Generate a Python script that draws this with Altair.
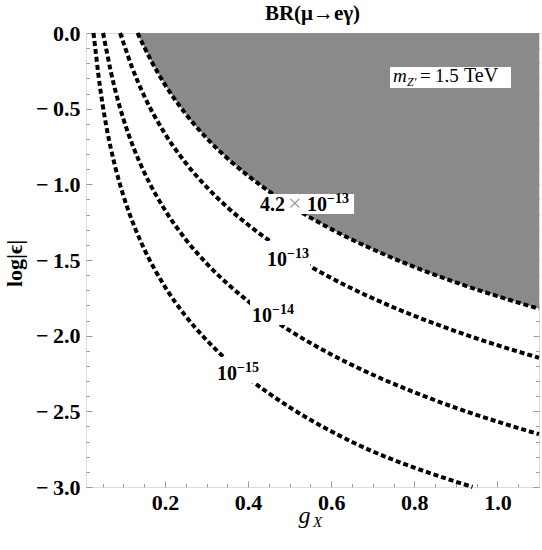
import altair as alt
import pandas as pd

# ---- contour read-offs: g_X and log10|eps| ----
G_A = [0.134, 0.15, 0.17, 0.2, 0.25, 0.3, 0.35, 0.4, 0.5, 0.6, 0.7, 0.8, 0.9, 1.0, 1.1]
LE_A = [0.0, -0.092, -0.200, -0.341, -0.535, -0.694, -0.828, -0.943, -1.137, -1.296, -1.429, -1.546, -1.648, -1.739, -1.822]

G_B = [0.092, 0.1, 0.12, 0.15, 0.2, 0.25, 0.3, 0.35, 0.4, 0.5, 0.6, 0.7, 0.8, 0.9, 1.0, 1.1]
LE_B = [0.0, -0.063, -0.221, -0.415, -0.665, -0.859, -1.017, -1.151, -1.267, -1.461, -1.619, -1.753, -1.869, -1.971, -2.063, -2.146]

G_C = [0.051, 0.06, 0.07, 0.08, 0.1, 0.125, 0.15, 0.2, 0.25, 0.3, 0.35, 0.4, 0.5, 0.6, 0.7, 0.8, 0.9, 1.0, 1.1]
LE_C = [0.0, -0.124, -0.258, -0.374, -0.568, -0.762, -0.920, -1.170, -1.364, -1.522, -1.656, -1.772, -1.966, -2.124, -2.258, -2.374, -2.477, -2.568, -2.651]

G_D = [0.028, 0.035, 0.04, 0.05, 0.06, 0.08, 0.1, 0.125, 0.15, 0.2, 0.25, 0.3, 0.35, 0.4, 0.5, 0.6, 0.7, 0.8, 0.9, 0.94]
LE_D = [0.0, -0.163, -0.279, -0.473, -0.632, -0.881, -1.075, -1.269, -1.427, -1.677, -1.871, -2.029, -2.163, -2.279, -2.473, -2.632, -2.765, -2.872, -2.965, -3.0]

# ---- label anchors (data coords) and texts ----
LABEL_G = [0.424, 0.4455, 0.4094, 0.3252, 0.7463]
LABEL_LE = [-1.176, -1.540, -1.910, -2.293, -0.324]
LABEL_PARTS = [["4.2", "×", "10", "−13"], ["10", "−13"], ["10", "−14"], ["10", "−15"],
               ["m", "Z′", "=", "1.5", "TeV"]]
TITLE = "BR(μ→eγ)"

# white backgrounds behind contour labels (data coords)
BOX_G1 = [0.424, 0.441, 0.4046, 0.3204, 0.7415]
BOX_G2 = [0.655, 0.549, 0.5201, 0.4359, 1.0326]
BOX_LE1 = [-1.064, -1.375, -1.765, -2.141, -0.2247]
BOX_LE2 = [-1.196, -1.553, -1.930, -2.313, -0.3635]

XMAJ = [0.2, 0.4, 0.6, 0.8, 1.0]
XMIN = [0.05, 0.1, 0.15, 0.25, 0.3, 0.35, 0.45, 0.5, 0.55, 0.65, 0.7, 0.75, 0.85, 0.9, 0.95, 1.05]
YMAJ = [0.0, -0.5, -1.0, -1.5, -2.0, -2.5, -3.0]
YMIN = [-0.1, -0.2, -0.3, -0.4, -0.6, -0.7, -0.8, -0.9, -1.1, -1.2, -1.3, -1.4,
        -1.6, -1.7, -1.8, -1.9, -2.1, -2.2, -2.3, -2.4, -2.6, -2.7, -2.8, -2.9]

W, H = 453, 454
FONT = "Liberation Serif"
FRAME = "#9a9a9a"
xs = alt.Scale(domain=[0.01, 1.1], nice=False, zero=False)
ys = alt.Scale(domain=[-3.0, 0.0], nice=False, zero=False)


def tick_axis(orient, offset, values, size):
    return alt.Axis(orient=orient, offset=offset, values=values, tickSize=size, labels=False,
                    domain=False, grid=False, tickColor=FRAME, tickWidth=1, title="")


label_x = alt.Axis(orient="bottom", values=XMAJ, format=".1f", ticks=False, domain=False, grid=False,
                   labelFont=FONT, labelFontSize=22, labelFontWeight="bold", labelColor="black",
                   labelPadding=5, title="g", titleFont=FONT, titleFontSize=24, titleFontStyle="italic",
                   titleFontWeight="normal", titleColor="black", titleX=212, titleY=35,
                   titleAlign="left", titleBaseline="alphabetic")
label_y = alt.Axis(orient="left", values=YMAJ, ticks=False, domain=False, grid=False,
                   labelExpr="datum.value < 0 ? '−\u2009' + format(-datum.value, '.1f') : format(datum.value, '.1f')",
                   labelFont=FONT, labelFontSize=22, labelFontWeight="bold", labelColor="black",
                   labelPadding=6, title="log|ϵ|", titleFont=FONT, titleFontSize=22, titleFontWeight="bold",
                   titleColor="black", titleX=-72, titleY=230, titleAngle=270, titleAlign="center",
                   titleBaseline="middle")

area = alt.Chart(pd.DataFrame({"g": G_A, "le": LE_A})).mark_area(
    color="#8a8a8a", interpolate="monotone").encode(
    x=alt.X("g:Q", scale=xs, axis=label_x),
    y=alt.Y("le:Q", scale=ys, axis=label_y),
    y2=alt.datum(0),
)


def curve(g, le, xaxis, yaxis):
    return alt.Chart(pd.DataFrame({"g": g, "le": le})).mark_line(
        color="black", strokeWidth=4, strokeDash=[5, 3], interpolate="monotone").encode(
        x=alt.X("g:Q", scale=xs, axis=xaxis),
        y=alt.Y("le:Q", scale=ys, axis=yaxis),
    )


cA = curve(G_A, LE_A, tick_axis("top", -H, XMAJ, 6), tick_axis("right", -W, YMAJ, 6))
cB = curve(G_B, LE_B, tick_axis("top", -H, XMIN, 3.5), tick_axis("right", -W, YMIN, 3.5))
cC = curve(G_C, LE_C, tick_axis("bottom", -H, XMAJ, 6), tick_axis("left", -W, YMAJ, 6))
cD = curve(G_D, LE_D, tick_axis("bottom", -H, XMIN, 3.5), tick_axis("left", -W, YMIN, 3.5))

boxes = alt.Chart(pd.DataFrame({"g1": BOX_G1, "g2": BOX_G2, "le1": BOX_LE1, "le2": BOX_LE2})).mark_rect(
    color="white").encode(
    x=alt.X("g1:Q", scale=xs, axis=None), x2="g2",
    y=alt.Y("le1:Q", scale=ys, axis=None), y2="le2",
)


def piece(i, j, dx, dy, size, weight="bold", style="normal", color="black"):
    df = pd.DataFrame({"g": [LABEL_G[i]], "le": [LABEL_LE[i]], "t": [LABEL_PARTS[i][j]]})
    return alt.Chart(df).mark_text(align="left", baseline="alphabetic", dx=dx, dy=dy, font=FONT,
                                   fontSize=size, fontWeight=weight, fontStyle=style, color=color).encode(
        x=alt.X("g:Q", scale=xs, axis=None),
        y=alt.Y("le:Q", scale=ys, axis=None),
        text="t:N",
    )


texts = [
    piece(0, 0, 2, 0, 20), piece(0, 1, 30, 0, 24, weight="normal", color="#999999"),
    piece(0, 2, 49, 0, 20), piece(0, 3, 69, -8, 14),
    piece(1, 0, 0, 0, 20), piece(1, 1, 20, -8, 14),
    piece(2, 0, 0, 0, 20), piece(2, 1, 20, -8, 14),
    piece(3, 0, 0, 0, 20), piece(3, 1, 20, -8, 14),
    piece(4, 0, 1, 0, 19, weight="normal", style="italic"),
    piece(4, 1, 15, 4, 12, weight="normal", style="italic"),
    piece(4, 2, 28, 0, 19, weight="normal"),
    piece(4, 3, 43, 0, 19, weight="normal"),
    piece(4, 4, 72, 0, 20, weight="normal"),
]

sub_x = alt.Chart(pd.DataFrame({"t": ["X"]})).mark_text(
    align="left", baseline="alphabetic", font=FONT, fontSize=15, fontStyle="italic", color="black").encode(
    x=alt.value(227), y=alt.value(494), text="t:N")

title = alt.Chart(pd.DataFrame({"t": [TITLE]})).mark_text(
    align="center", baseline="alphabetic", font=FONT, fontSize=21, fontWeight="bold", color="black").encode(
    x=alt.value(W / 2), y=alt.value(-13), text="t:N")

chart = alt.layer(area, cA, cB, cC, cD, boxes, *texts, sub_x, title).resolve_axis(
    x="independent", y="independent").properties(
    width=W, height=H,
    padding={"left": 86, "top": 33, "right": 3, "bottom": 63},
    autosize=alt.AutoSizeParams(type="none"),
).configure_view(stroke=FRAME, strokeWidth=1).configure(background="white")

chart.save("out.html", embed_options={"renderer": "svg", "actions": False})
